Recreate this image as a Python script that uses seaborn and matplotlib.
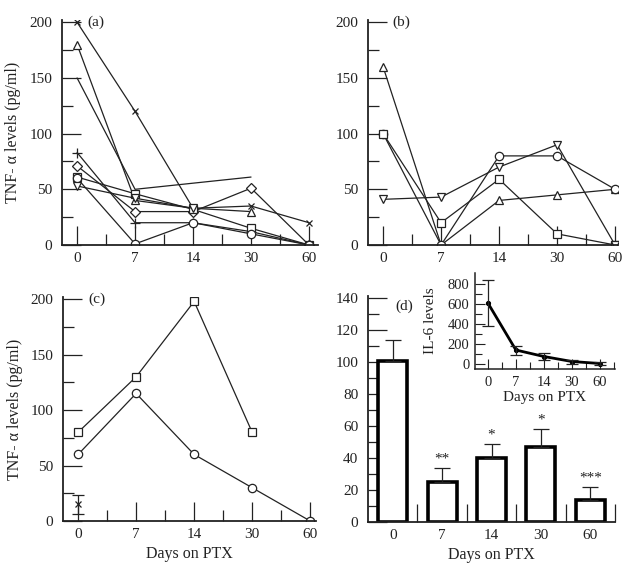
import matplotlib
matplotlib.use("Agg")
import matplotlib.pyplot as plt
import seaborn as sns
import numpy as np
from matplotlib.ticker import MultipleLocator, FixedLocator

sns.set_style("ticks")
plt.rcParams['font.family'] = ['Liberation Serif', 'DejaVu Serif']
plt.rcParams['mathtext.fontset'] = 'stix'

days = ["0", "7", "14", "30", "60"]

# Panel (a): individual patients (None = not measured)
a_cross = [200, 120, 33, 35, 20]
a_tri = [180, 40, 33, 30, None]
a_plain = [150, 50, None, 61, None]
a_plus = [83, 20, 20, 12, 0]
a_diamond = [71, 30, 30, 51, 0]
a_square = [61, 46, 32, 15, 0]
a_circle = [60, 1, 20, 10, 0]
a_tridown = [53, 42, 33, None, None]

# Panel (b)
b_tri = [160, 0, 40, 45, 50]
b_square = [100, 20, 59, 10, 0]
b_circle = [100, 0, 80, 80, 50]
b_tridown = [41, 43, 70, 90, 0]

# Panel (c)
c_square = [80, 130, 198, 80, None]
c_circle = [60, 115, 60, 30, 0]
c_single_mean = [15]
c_single_err = [8.5]

# Panel (d)
d_means = [101, 25, 40, 47, 14]
d_err = [13, 9, 9, 11, 8]
d_stars = ["", "**", "*", "*", "***"]

il6_means = [610, 140, 75, 25, 5]
il6_err = [230, 45, 35, 20, 15]

INK = "#222222"
W, H = 630, 569
fig = plt.figure(figsize=(W / 100, H / 100), dpi=100)


def axes_px(left, right, top, bottom):
    return fig.add_axes([left / W, 1 - bottom / H, (right - left) / W, (bottom - top) / H])


def draw(ax, vals, marker, ms=6):
    pos = [i for i, v in enumerate(vals) if v is not None]
    y = [v for v in vals if v is not None]
    sns.lineplot(x=pos, y=y, ax=ax, color=INK, lw=0.9, marker=marker,
                 markersize=ms, markerfacecolor="white", markeredgecolor=INK,
                 markeredgewidth=0.9, estimator=None, sort=False, legend=False)


def style(ax, xlim, ylim, ymaj, ymin, fs=11):
    ax.set_xlim(*xlim)
    ax.set_ylim(*ylim)
    ax.set_xticks(range(5))
    ax.set_xticklabels(days)
    ax.xaxis.set_minor_locator(FixedLocator([0.5, 1.5, 2.5, 3.5]))
    ax.yaxis.set_major_locator(MultipleLocator(ymaj))
    ax.yaxis.set_minor_locator(MultipleLocator(ymin))
    ax.tick_params(which='major', direction='in', length=14, width=0.9,
                   labelsize=fs, colors=INK)
    ax.tick_params(which='minor', direction='in', length=8, width=0.9, colors=INK)
    ax.tick_params(axis='y', pad=7)
    ax.tick_params(axis='x', pad=5)
    for s in ['top', 'right']:
        ax.spines[s].set_visible(False)
    for s in ['left', 'bottom']:
        ax.spines[s].set_linewidth(1.3)
        ax.spines[s].set_color(INK)
    ax.set_xlabel("")
    ax.set_ylabel("")


ylab = "TNF- α levels (pg/ml)"

# ---------- (a)
ax_a = axes_px(62, 318, 20, 245)
draw(ax_a, a_cross, 'x', 5)
draw(ax_a, a_tri, '^', 6)
draw(ax_a, a_plain, '', 0)
draw(ax_a, a_plus, '+', 7)
draw(ax_a, a_diamond, 'D', 5)
draw(ax_a, a_square, 's', 6)
draw(ax_a, a_circle, 'o', 6)
draw(ax_a, a_tridown, 'v', 6)
style(ax_a, (-0.26, 4.155), (0, 202), 50, 25)
ax_a.set_ylabel(ylab, fontsize=11.5, color=INK)
ax_a.yaxis.set_label_coords(-0.16, 0.5)
ax_a.text(0.10, 200, "(a)", transform=ax_a.get_yaxis_transform(), va='center',
          fontsize=11, color=INK)

# ---------- (b)
ax_b = axes_px(368, 618, 20, 245)
draw(ax_b, b_tri, '^', 6)
draw(ax_b, b_circle, 'o', 6)
draw(ax_b, b_square, 's', 6)
draw(ax_b, b_tridown, 'v', 6)
style(ax_b, (-0.26, 4.05), (0, 202), 50, 25)
ax_b.text(0.096, 200, "(b)", transform=ax_b.get_yaxis_transform(), va='center',
          fontsize=11, color=INK)

# ---------- (c)
ax_c = axes_px(63, 316, 297, 521)
draw(ax_c, c_square, 's', 6)
draw(ax_c, c_circle, 'o', 6)
ax_c.errorbar([0], c_single_mean, yerr=c_single_err, fmt='x', color=INK, ms=4,
              capsize=4, elinewidth=0.9, capthick=0.9, mew=0.9)
style(ax_c, (-0.26, 4.1), (0, 202), 50, 25)
ax_c.set_ylabel(ylab, fontsize=11.5, color=INK)
ax_c.yaxis.set_label_coords(-0.16, 0.5)
ax_c.set_xlabel("Days on PTX", fontsize=11.5, color=INK)
ax_c.xaxis.set_label_coords(0.5, -0.11)
ax_c.text(0.10, 200, "(c)", transform=ax_c.get_yaxis_transform(), va='center',
          fontsize=11, color=INK)

# ---------- (d)
ax_d = axes_px(368, 615, 296, 522)
sns.barplot(x=days, y=d_means, ax=ax_d, color='white', edgecolor='black',
            linewidth=2.6, width=0.59, errorbar=None)
ax_d.errorbar(range(5), d_means, yerr=[np.zeros(5), d_err], fmt='none',
              ecolor=INK, elinewidth=0.9, capsize=6, capthick=0.9)
for i, (m, e, s) in enumerate(zip(d_means, d_err, d_stars)):
    if s:
        ax_d.text(i, m + e + 1.5, s, ha='center', va='bottom', fontsize=11, color=INK)
ax_d.set_xlim(-0.5, 4.5)
ax_d.set_ylim(0, 141.5)
ax_d.set_xticks(range(5))
ax_d.set_xticklabels(days)
ax_d.xaxis.set_minor_locator(FixedLocator([0.5, 1.5, 2.5, 3.5, 4.5]))
ax_d.yaxis.set_major_locator(MultipleLocator(20))
ax_d.yaxis.set_minor_locator(MultipleLocator(10))
ax_d.tick_params(axis='x', which='major', length=0, labelsize=11, pad=5, colors=INK)
ax_d.tick_params(axis='x', which='minor', direction='in', length=13, width=0.9, colors=INK)
ax_d.tick_params(axis='y', which='major', direction='in', length=14, width=0.9,
                 labelsize=11, pad=7, colors=INK)
ax_d.tick_params(axis='y', which='minor', direction='in', length=8, width=0.9, colors=INK)
for s in ['top', 'right']:
    ax_d.spines[s].set_visible(False)
for s in ['left', 'bottom']:
    ax_d.spines[s].set_linewidth(1.3)
    ax_d.spines[s].set_color(INK)
ax_d.set_ylabel("")
ax_d.set_xlabel("Days on PTX", fontsize=11.5, color=INK)
ax_d.xaxis.set_label_coords(0.5, -0.11)
ax_d.text(0.11, 135, "(d)", transform=ax_d.get_yaxis_transform(), va='center',
          fontsize=11, color=INK)

# ---------- inset IL-6
ax_i = axes_px(475, 615, 273, 369)
sns.lineplot(x=list(range(5)), y=il6_means, ax=ax_i, color='black', lw=2.0,
             marker='o', markersize=3, markeredgecolor='black', estimator=None,
             legend=False)
ax_i.errorbar(range(5), il6_means, yerr=il6_err, fmt='none', ecolor=INK,
              elinewidth=0.9, capsize=4, capthick=0.9)
ax_i.set_xlim(-0.46, 4.54)
ax_i.set_ylim(-50, 910)
ax_i.set_xticks(range(5))
ax_i.set_xticklabels(days)
ax_i.xaxis.set_minor_locator(FixedLocator([0.5, 1.5, 2.5, 3.5, 4.5]))
ax_i.yaxis.set_major_locator(FixedLocator([0, 200, 400, 600, 800]))
ax_i.yaxis.set_minor_locator(FixedLocator([100, 300, 500, 700]))
ax_i.tick_params(which='major', direction='in', length=7, width=0.8, labelsize=10.5,
                 colors=INK)
ax_i.tick_params(which='minor', direction='in', length=5, width=0.8, colors=INK)
ax_i.tick_params(axis='y', pad=4)
ax_i.tick_params(axis='x', pad=5)
for s in ['top', 'right']:
    ax_i.spines[s].set_visible(False)
for s in ['left', 'bottom']:
    ax_i.spines[s].set_linewidth(1.1)
    ax_i.spines[s].set_color(INK)
ax_i.set_xlabel("Days on PTX", fontsize=11, color=INK)
ax_i.xaxis.set_label_coords(0.5, -0.23)
ax_i.set_ylabel("IL-6 levels", fontsize=11, color=INK)
ax_i.yaxis.set_label_coords(-0.27, 0.5)

fig.savefig("out.png", dpi=100)
